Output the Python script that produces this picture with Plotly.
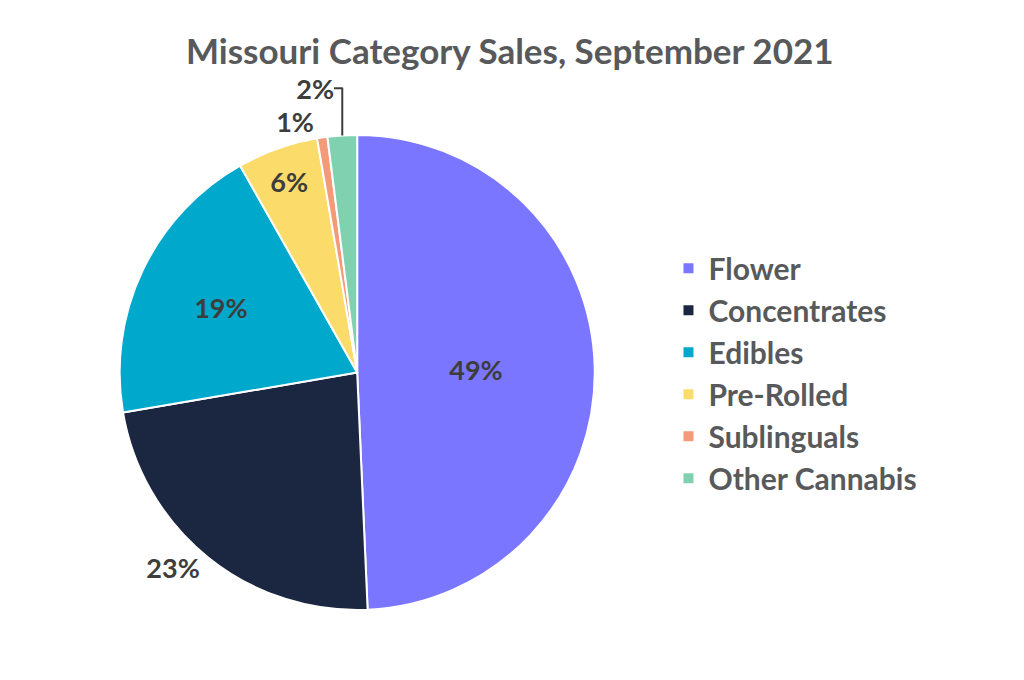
import plotly.graph_objects as go

categories = ["Flower", "Concentrates", "Edibles", "Pre-Rolled", "Sublinguals", "Other Cannabis"]
values = [49.3, 23.0, 19.5, 5.5, 0.7, 2.0]
labels_txt = ["49%", "23%", "19%", "6%", "1%", "2%"]
colors = ["#7b76ff", "#1b2740", "#00a9cc", "#fbdc6b", "#f59a79", "#7fd1b0"]
positions = ["inside", "outside", "inside", "inside", "outside", "outside"]

fig = go.Figure(go.Pie(
    labels=categories, values=values, text=labels_txt, texttemplate="%{text}",
    textposition=positions, sort=False, direction="clockwise", rotation=0,
    marker=dict(colors=colors, line=dict(color="white", width=2)),
    textfont=dict(family="Lato", size=27, color="#3d3d3d", weight="bold"),
    insidetextorientation="horizontal", hoverinfo="label+percent",
    domain=dict(x=[0.109, 0.573], y=[0.114, 0.814]),
))
fig.update_layout(
    width=1024, height=680, paper_bgcolor="white", plot_bgcolor="white",
    margin=dict(l=0, r=0, t=0, b=0),
    title=dict(text="Missouri Category Sales, September 2021", x=0.49, xanchor="center",
               y=0.935, yanchor="middle",
               font=dict(family="Lato", size=35, color="#58595b", weight="bold")),
    legend=dict(x=0.645, y=0.463, xanchor="left", yanchor="middle",
                font=dict(family="Lato", size=30, color="#58595b", weight="bold"),
                itemsizing="constant", tracegroupgap=0),
    uniformtext=dict(minsize=10),
)
fig.write_html("out.html")
